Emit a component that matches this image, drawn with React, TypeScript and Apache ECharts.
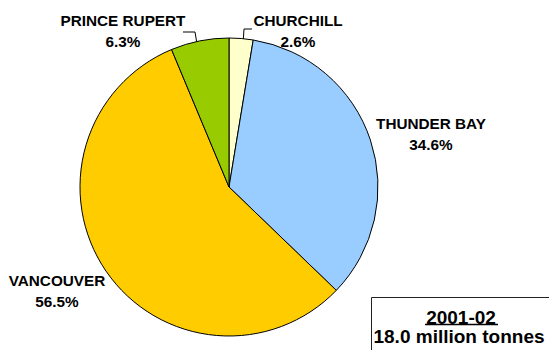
import React, { useEffect, useRef } from "react";
import * as echarts from "echarts";

// ---- data ----
const ports: string[] = ["CHURCHILL", "THUNDER BAY", "VANCOUVER", "PRINCE RUPERT"];
const shares: number[] = [2.6, 34.6, 56.5, 6.3];
const yearLabel = "2001-02";
const totalLabel = "18.0 million tonnes";

// ---- styling / layout ----
const sliceColors = ["#FFFFCC", "#99CCFF", "#FFCC00", "#99CC00"];
const labelPositions: number[][] = [
  [298, 31],
  [431, 134],
  [57, 291],
  [123, 31],
];
const leaderLines: (number[][] | null)[] = [
  [[243, 44], [244, 29], [252, 29]],
  null,
  null,
  [[197, 44], [195, 32], [183, 32]],
];
const FONT = "'Liberation Sans', Arial, Helvetica, sans-serif";

export default function App() {
  const ref = useRef<HTMLDivElement>(null);
  useEffect(() => {
    if (!ref.current) return;
    const chart = echarts.init(ref.current, undefined, { renderer: "svg" });
    const data = ports.map((name, i) => ({
      name,
      value: shares[i],
      itemStyle: { color: sliceColors[i] },
      labelLine: { show: leaderLines[i] !== null },
    }));
    chart.setOption({
      animation: false,
      backgroundColor: "#ffffff",
      series: [
        {
          type: "pie",
          center: [229, 187],
          radius: 149,
          startAngle: 90,
          clockwise: true,
          percentPrecision: 1,
          data,
          itemStyle: { borderColor: "#000000", borderWidth: 1 },
          label: {
            show: true,
            position: "outside",
            formatter: (p: any) => `${p.name}\n${p.percent.toFixed(1)}%`,
            fontFamily: FONT,
            fontWeight: "bold",
            fontSize: 15.3,
            lineHeight: 21,
            color: "#000000",
            align: "center",
            overflow: "none",
            width: 200,
          },
          labelLine: {
            show: true,
            lineStyle: { color: "#000000", width: 1 },
          },
          labelLayout: (params: any) => {
            const i = params.dataIndex;
            const out: any = {
              x: labelPositions[i][0],
              y: labelPositions[i][1],
              align: "center",
              verticalAlign: "middle",
            };
            if (leaderLines[i]) out.labelLinePoints = leaderLines[i];
            return out;
          },
          emphasis: { disabled: true },
        },
      ],
      graphic: [
        {
          type: "rect",
          shape: { x: 371.5, y: 297.5, width: 200, height: 100 },
          style: { fill: "#ffffff", stroke: "#222222", lineWidth: 1 },
        },
        {
          type: "text",
          x: 461,
          y: 317,
          style: {
            text: yearLabel,
            fontFamily: FONT,
            fontWeight: "bold",
            fontSize: 19,
            fill: "#000000",
            align: "center",
            verticalAlign: "middle",
          },
        },
        {
          type: "line",
          shape: { x1: 425, y1: 324.5, x2: 498, y2: 324.5 },
          style: { stroke: "#000000", lineWidth: 1.5 },
        },
        {
          type: "text",
          x: 459,
          y: 336,
          style: {
            text: totalLabel,
            fontFamily: FONT,
            fontWeight: "bold",
            fontSize: 19,
            fill: "#000000",
            align: "center",
            verticalAlign: "middle",
          },
        },
      ],
    });
    return () => chart.dispose();
  }, []);
  return (
    <div
      ref={ref}
      style={{ position: "absolute", left: 0, top: 0, width: 549, height: 350 }}
    />
  );
}
